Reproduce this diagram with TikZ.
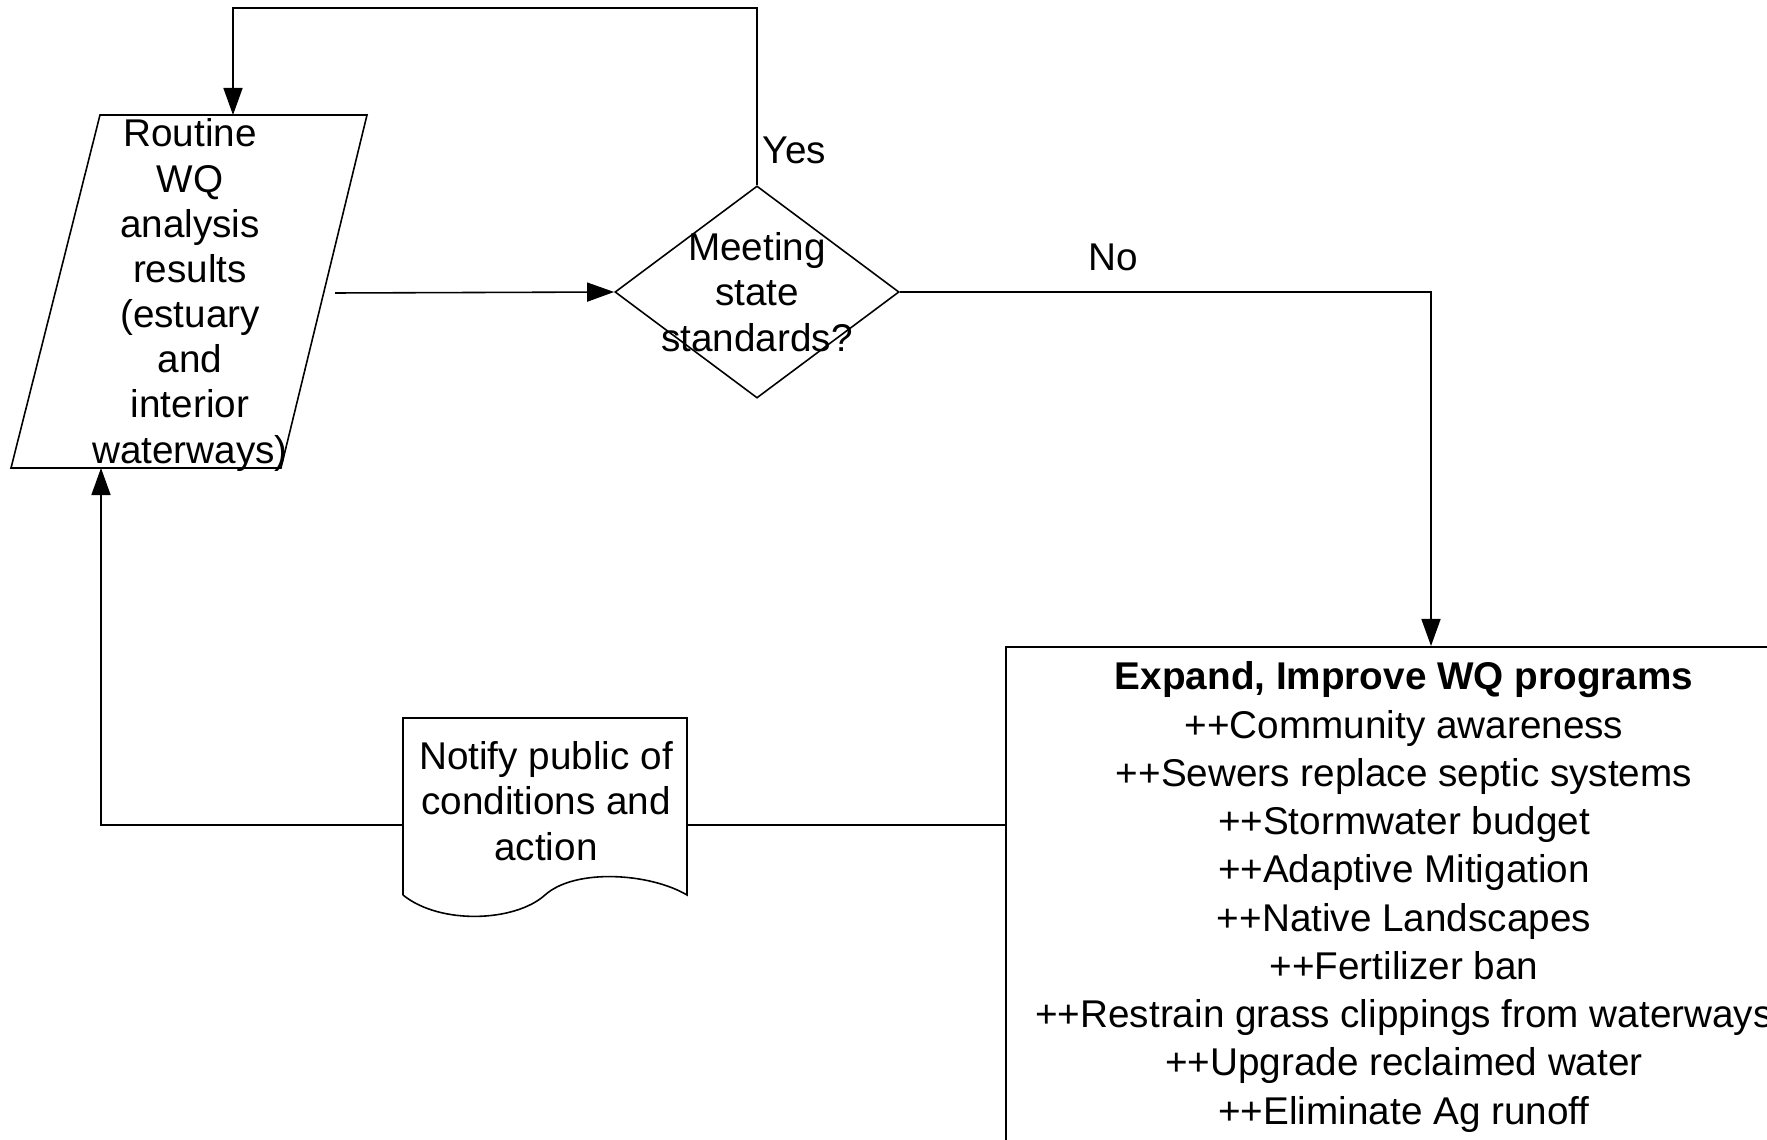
\documentclass[tikz,border=0pt]{standalone}
\usepackage{fontspec}
\setmainfont{Liberation Sans}
\usetikzlibrary{arrows.meta,shapes.geometric}
\begin{document}
\begin{tikzpicture}[x=0.01cm,y=-0.01cm,
  line width=0.45pt,
  arr/.style={-{Triangle[length=2.7mm,width=1.9mm]}},
  txt/.style={font=\fontsize{11}{13}\selectfont, align=center, inner sep=0pt},
  ptxt/.style={font=\fontsize{11}{12.85}\selectfont, align=center, inner sep=0pt},
  boxtxt/.style={font=\fontsize{11}{13.72}\selectfont, align=center, inner sep=0pt},
  lbl/.style={font=\fontsize{11}{13}\selectfont, inner sep=0pt}]
\useasboundingbox (0,0) rectangle (1767,1140);
\clip (0,0) rectangle (1767,1140);
% parallelogram (input data)
\coordinate (pTL) at (100,115);
\coordinate (pTR) at (367,115);
\coordinate (pBR) at (281,468);
\coordinate (pBL) at (11,468);
\draw (pTL) -- (pTR) -- (pBR) -- (pBL) -- cycle;
\node[ptxt] (routine) at (190,295) {Routine\\WQ\\analysis\\results\\(estuary\\and\\interior\\waterways)};
% decision
\node[diamond, draw, minimum width=2.84cm, minimum height=2.12cm, inner sep=0pt] (dec) at (757,292) {};
\node[txt] (dectxt) at (757,292) {Meeting\\state\\standards?};
% document
\coordinate (dTL) at (403,718);
\coordinate (dTR) at (687,718);
\coordinate (dBR) at (687,895);
\coordinate (dMid) at (545,895);
\coordinate (dBL) at (403,895);
\draw (dBL) -- (dTL) -- (dTR) -- (dBR)
  .. controls (650,873) and (575,868) .. (dMid)
  .. controls (515,922) and (440,925) .. (dBL);
\node[txt] (doc) at (546,801) {Notify public of\\conditions and\\action};
% big box
\node[draw, minimum width=7.98cm, minimum height=6cm, anchor=north west, inner sep=0pt] (exp) at (1005,646) {};
\node[boxtxt] (exptxt) at (1404,897) {\textbf{Expand, Improve WQ programs}\\++Community awareness\\++Sewers replace septic systems\\++Stormwater budget\\++Adaptive Mitigation\\++Native Landscapes\\++Fertilizer ban\\++Restrain grass clippings from waterways\\++Upgrade reclaimed water\\++Eliminate Ag runoff};
% labels
\node[lbl, anchor=west] (yes) at (762,150) {Yes};
\node[lbl] (no) at (1113,257) {No};
% connectors
\coordinate (loopTop) at (757,8);
\coordinate (pTop) at (233,115);
\draw[arr] (dec.north) -- (loopTop) -| (pTop);
\coordinate (pOut) at (335,293);
\draw[arr] (pOut) -- (dec.west);
\coordinate (expIn) at (1431,646);
\draw[arr] (dec.east) -| (expIn);
\coordinate (expOut) at (1005,825);
\coordinate (docR) at (687,825);
\coordinate (docL) at (403,825);
\coordinate (pBot) at (101,468);
\draw (expOut) -- (docR);
\draw[arr] (docL) -| (pBot);
\end{tikzpicture}
\end{document}
